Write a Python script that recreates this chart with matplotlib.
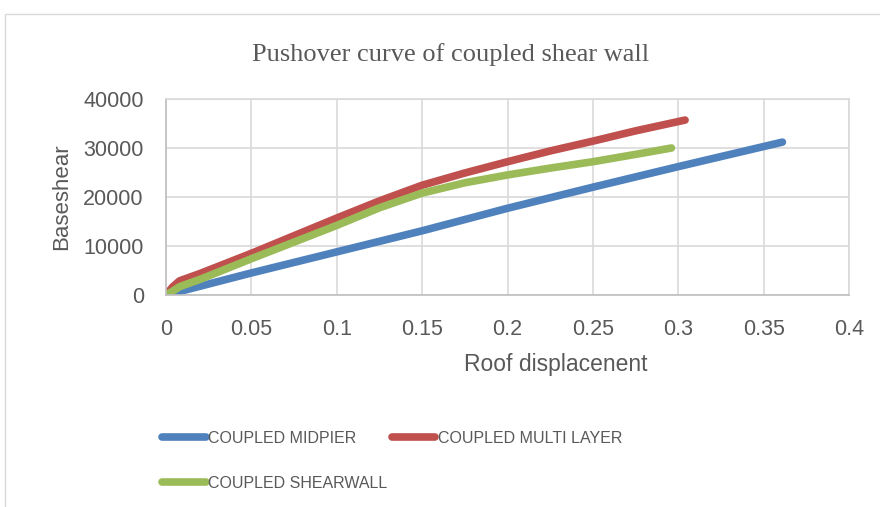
import matplotlib.pyplot as plt
from matplotlib.patches import Rectangle

# Pushover data
midpier_x = [0, 0.01, 0.05, 0.1, 0.15, 0.2, 0.25, 0.3, 0.361]
midpier_y = [0, 900, 4500, 8800, 13100, 17700, 22000, 26200, 31200]

multilayer_x = [0, 0.004, 0.008, 0.02, 0.05, 0.1, 0.125, 0.15, 0.175, 0.2, 0.225, 0.25, 0.275, 0.304]
multilayer_y = [0, 1700, 2900, 4400, 8500, 15700, 19200, 22400, 24900, 27200, 29400, 31400, 33500, 35700]

shearwall_x = [0, 0.004, 0.008, 0.02, 0.05, 0.1, 0.125, 0.15, 0.175, 0.2, 0.225, 0.25, 0.275, 0.296]
shearwall_y = [0, 800, 1700, 3200, 7400, 14200, 17800, 20800, 22900, 24500, 25900, 27200, 28700, 30000]

x_ticks = [0, 0.05, 0.1, 0.15, 0.2, 0.25, 0.3, 0.35, 0.4]
x_tick_labels = ['0', '0.05', '0.1', '0.15', '0.2', '0.25', '0.3', '0.35', '0.4']
y_ticks = [0, 10000, 20000, 30000, 40000]

text_col = '#595959'
grid_col = '#d9d9d9'

fig = plt.figure(figsize=(8.8, 5.07), dpi=100)
ax = fig.add_axes([166 / 880, 1 - 295 / 507, (849 - 166) / 880, (295 - 99) / 507])

# outer chart frame
fig.patches.append(Rectangle((5 / 880, -0.1), 1.0, 1 - 14 / 507 + 0.1, transform=fig.transFigure,
                             fill=False, edgecolor=grid_col, linewidth=1))

lw = 5.5
style = dict(lw=lw, solid_capstyle='round', solid_joinstyle='round')
l1, = ax.plot(midpier_x, midpier_y, color='#4f81bd', label='COUPLED MIDPIER', **style)
l2, = ax.plot(multilayer_x, multilayer_y, color='#c0504d', label='COUPLED MULTI LAYER', **style)
l3, = ax.plot(shearwall_x, shearwall_y, color='#9bbb59', label='COUPLED SHEARWALL', **style)

ax.set_xlim(0, 0.4)
ax.set_ylim(0, 40000)
ax.set_xticks(x_ticks)
ax.set_xticklabels(x_tick_labels)
ax.set_yticks(y_ticks)
ax.grid(True, color=grid_col, linewidth=1.2)
ax.set_axisbelow(True)
for s in ax.spines.values():
    s.set_color(grid_col)
    s.set_linewidth(1.2)
ax.spines['bottom'].set_color('#bfbfbf')
ax.spines['left'].set_color('#bfbfbf')
ax.tick_params(length=0, labelsize=15.5, labelcolor=text_col, pad=17.5)
ax.tick_params(axis='y', pad=16)
for t in ax.get_xticklabels() + ax.get_yticklabels():
    t.set_fontfamily('Liberation Sans')

ax.set_xlabel('Roof displacenent', fontsize=16.5, color=text_col, family='Liberation Sans')
ax.xaxis.set_label_coords((556 - 166) / 683, (295 - 365) / 196)
ax.xaxis.label.set_va('center')
ax.set_ylabel('Baseshear', fontsize=16, color=text_col, family='Liberation Sans')
ax.yaxis.set_label_coords((62 - 166) / 683, (295 - 197) / 196)
ax.yaxis.label.set_va('center')

fig.text(451 / 880, 1 - 55 / 507, 'Pushover curve of coupled shear wall', ha='center', va='center',
         fontsize=19, color=text_col, family='Liberation Serif')

fig.legend([l1, l3, l2], [l1.get_label(), l3.get_label(), l2.get_label()],
           ncol=2, loc='upper left', bbox_to_anchor=(162 / 880, 1 - 431 / 507),
           frameon=False, borderpad=0, borderaxespad=0, handlelength=2.75, handletextpad=0.15,
           columnspacing=0.25, labelspacing=1.85,
           prop={'family': 'Liberation Sans', 'size': 11.5}, labelcolor=text_col)

fig.savefig('out.png', dpi=100)
